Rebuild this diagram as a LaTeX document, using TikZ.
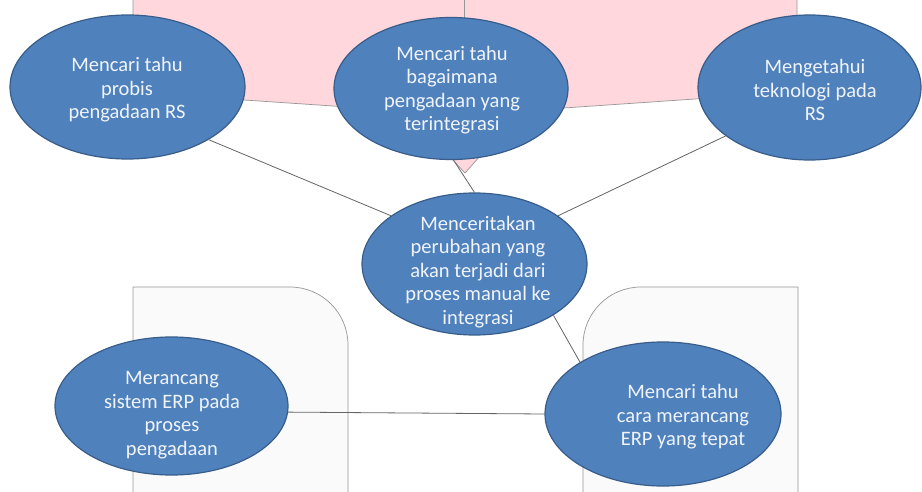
\documentclass[tikz,border=0pt]{standalone}
\usepackage{fontspec}
\setmainfont{Carlito}
\usetikzlibrary{shapes.geometric}
\definecolor{bubfill}{RGB}{79,129,189}
\definecolor{bubline}{RGB}{56,93,138}
\definecolor{txtcol}{RGB}{240,244,250}
\definecolor{pinkfill}{RGB}{255,215,220}
\definecolor{boxfill}{RGB}{250,250,250}
\definecolor{edgecol}{RGB}{150,150,150}
\definecolor{conncol}{RGB}{100,100,100}
\tikzset{
  bub/.style={ellipse, draw=bubline, fill=bubfill, line width=1.2pt, inner sep=0pt},
  txt/.style={text=txtcol, align=center, font=\fontsize{20.5}{23.5}\selectfont, inner sep=0pt},
  conn/.style={draw=conncol, line width=0.8pt},
  bgshape/.style={draw=edgecol, line width=0.7pt},
}
\begin{document}
\begin{tikzpicture}[x=1pt,y=-1pt]
\useasboundingbox (0,0) rectangle (922,492);
% pink callout background
\path[bgshape, fill=pinkfill] (797,0) -- (797,92) -- (520,111) -- (465,173) -- (407,111) -- (133,92.5) -- (133,0);
\draw[bgshape] (464,0) -- (464,114);
% grey rounded boxes
\path[bgshape, fill=boxfill] (133,492) -- (133,287) -- (290,287) arc[start angle=270, end angle=360, radius=58] -- (348,492);
\path[bgshape, fill=boxfill] (583,492) -- (583,345) arc[start angle=180, end angle=270, radius=58] -- (798,287) -- (798,492);
% ellipses
\node[bub, minimum width=235pt, minimum height=144pt] (L) at (127.5,87) {};
\node[bub, minimum width=234pt, minimum height=142pt] (M) at (451,88.5) {};
\node[bub, minimum width=223pt, minimum height=145pt] (R) at (809.5,87.5) {};
\node[bub, minimum width=225pt, minimum height=142pt] (C) at (474.5,264) {};
\node[bub, minimum width=233pt, minimum height=138pt] (BL) at (171.5,406) {};
\node[bub, minimum width=236pt, minimum height=144pt] (BR) at (663,414) {};
% connectors
\draw[conn] (L.-33) -- (C.150);
\draw[conn] (M.-88) -- (C.90);
\draw[conn] (R.-150) -- (C.30);
\draw[conn] (C.-33) -- (BR.148);
\draw[conn] (BL.-3) -- (BR.180);
% texts
\node[txt] (Lt) at (127,90) {Mencari tahu\\probis\\pengadaan RS};
\node[txt] (Mt) at (452,90) {Mencari tahu\\bagaimana\\pengadaan yang\\terintegrasi};
\node[txt] (Rt) at (815,90) {Mengetahui\\teknologi pada\\RS};
\node[txt] (Ct) at (478,272) {Menceritakan\\perubahan yang\\akan terjadi dari\\proses manual ke\\integrasi};
\node[txt] (BLt) at (172,415) {Merancang\\sistem ERP pada\\proses\\pengadaan};
\node[txt] (BRt) at (683,417) {Mencari tahu\\cara merancang\\ERP yang tepat};
\end{tikzpicture}
\end{document}
